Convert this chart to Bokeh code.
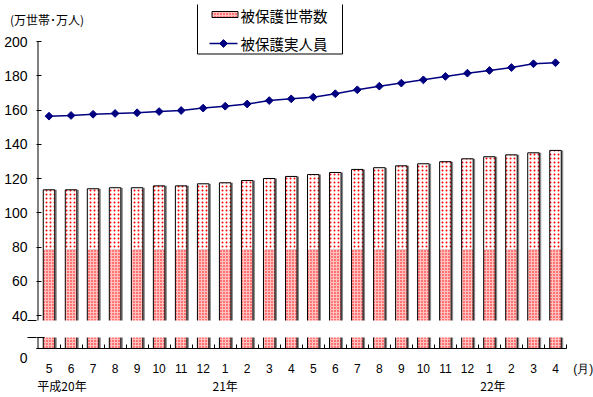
import numpy as np
from bokeh.plotting import figure
from bokeh.models import Range1d, FixedTicker, LinearAxis
from bokeh.core.properties import value
from bokeh.embed import file_html
from bokeh.resources import INLINE

# ---------------- data ----------------
months = ["5", "6", "7", "8", "9", "10", "11", "12",
          "1", "2", "3", "4", "5", "6", "7", "8", "9", "10", "11", "12",
          "1", "2", "3", "4"]
households = [113.4, 113.4, 114.0, 114.6, 114.6, 115.7, 115.7, 116.9,
              117.5, 118.8, 120.0, 121.2, 122.3, 123.5, 125.3, 126.3,
              127.4, 128.6, 129.8, 131.5, 132.7, 133.8, 135.0, 136.4]
persons = [156.4, 156.8, 157.5, 158.0, 158.4, 159.1, 159.7, 161.1,
           162.2, 163.5, 165.5, 166.5, 167.5, 169.5, 171.8, 173.9,
           175.7, 177.6, 179.6, 181.5, 183.1, 184.8, 187.0, 187.6]
y_ticks = [40, 60, 80, 100, 120, 140, 160, 180, 200]
year_labels = ["平成20年", "21年", "22年"]
year_pos = [1.59, 9.0, 21.16]
legend_labels = ["被保護世帯数", "被保護実人員"]
unit_label = "(万世帯･万人)"
month_unit = "(月)"
zero_label = "0"

# ---------------- layout ----------------
W, H = 593, 397
L, R, T, B = 36, 566, 4, 348          # frame edges (canvas px)
AX = 37.5                              # pixel of the drawn y axis line
n = len(months)
cat_px = (R - AX) / n
x_start = 0.5 - (AX - L) / cat_px
x_end = n + 0.5
k = 274 / 160                          # px per unit (40 -> 315, 200 -> 41)
y_start = 40 - (B - 315) / k           # value at the x axis (axis is broken)
y_end = 200 + (41 - T) / k
break_high = 40 - (320 - 315) / k
break_low = 40 - (337 - 315) / k
band_split = 78.5


def px2x(px):
    return x_start + (px - L) / cat_px


def px2y(py):
    return y_start + (B - py) / k


p = figure(width=W, height=H, x_range=Range1d(x_start, x_end),
           y_range=Range1d(y_start, y_end), output_backend="svg",
           toolbar_location=None, min_border_left=L, min_border_right=W - R,
           min_border_top=T, min_border_bottom=H - B)
p.outline_line_color = None
p.xgrid.visible = False
p.ygrid.visible = False
p.background_fill_color = "white"
p.border_fill_color = "white"

xs = list(range(1, n + 1))
bw = 11.5 / cat_px
shift = 2 / cat_px

# shadow
p.vbar(x=[x + shift for x in xs], width=bw, bottom=y_start, top=households,
       fill_color="#8a8a8a", line_color=None)
# lower dense dotted part
p.vbar(x=xs, width=bw, bottom=y_start, top=[min(band_split, h) for h in households],
       fill_color="#ffc0c0", line_color=None, hatch_pattern="dot",
       hatch_color="#ff0000", hatch_scale=3, hatch_weight=2)
# upper sparser dotted part
p.vbar(x=xs, width=bw, bottom=band_split, top=households,
       fill_color="white", line_color=None, hatch_pattern="dot",
       hatch_color="#ff0000", hatch_scale=4, hatch_weight=1)
# outline
p.vbar(x=xs, width=bw, bottom=y_start, top=households,
       fill_color=None, line_color="black", line_width=1)

# axis break band
p.quad(left=x_start, right=x_end, bottom=break_low, top=break_high,
       fill_color="white", line_color=None)
p.segment(x0=[x_start], y0=[break_low], x1=[px2x(44)], y1=[break_low],
          line_color="black", line_width=1)
# y axis line (broken)
xa = px2x(AX)
p.segment(x0=[xa, xa], y0=[break_high, y_start], x1=[xa, xa], y1=[200, break_low],
          line_color="black", line_width=1)

# persons line
p.line(x=xs, y=persons, line_color="#000080", line_width=1.5)
p.scatter(x=xs, y=persons, marker="square", angle=np.pi / 4, size=5.5,
          fill_color="#000080", line_color="#000080", line_width=1)

# ---- x axis (months) ----
nb = "\u00a0" * 10
p.xaxis.ticker = FixedTicker(ticks=xs + [x_end], minor_ticks=[x + 0.5 for x in xs])
ovr = {x: m for x, m in zip(xs, months)}
ovr[x_end] = nb + month_unit
p.xaxis.major_label_overrides = ovr
p.xaxis.major_tick_in = 0
p.xaxis.major_tick_out = 0
p.xaxis.minor_tick_in = 4
p.xaxis.minor_tick_out = 0
p.xaxis.axis_line_color = "black"
p.xaxis.major_label_standoff = 13
p.xaxis.major_label_text_font = "Liberation Sans"
p.xaxis.major_label_text_font_size = "12px"
p.xaxis.major_label_text_color = "black"

# ---- second row: years ----
yax = LinearAxis(ticker=FixedTicker(ticks=year_pos, minor_ticks=[]),
                 major_label_overrides={xv: t for xv, t in zip(year_pos, year_labels)},
                 axis_line_color=None, major_tick_line_color=None,
                 minor_tick_line_color=None, major_label_standoff=-8,
                 major_label_text_font="Noto Sans CJK JP",
                 major_label_text_font_size="12px", major_label_text_color="black")
p.add_layout(yax, "below")

# ---- unit label on top ----
uax = LinearAxis(ticker=FixedTicker(ticks=[px2x(46.5)], minor_ticks=[]),
                 major_label_overrides={px2x(46.5): unit_label},
                 axis_line_color=None, major_tick_line_color=None,
                 minor_tick_line_color=None, major_label_standoff=-29,
                 major_label_text_font="Noto Sans CJK JP",
                 major_label_text_font_size="12px", major_label_text_color="black")
p.add_layout(uax, "above")

# ---- y axis ----
p.yaxis.ticker = FixedTicker(ticks=[y_start] + y_ticks, minor_ticks=[break_low, break_high])
p.yaxis.major_label_overrides = {y_start: "\n" + zero_label}
p.yaxis.axis_line_color = None
p.yaxis.major_tick_in = 5
p.yaxis.major_tick_out = 0
p.yaxis.minor_tick_in = 0
p.yaxis.minor_tick_out = 9
p.yaxis.major_tick_line_color = "black"
p.yaxis.minor_tick_line_color = "black"
p.yaxis.major_label_standoff = 0
p.yaxis.major_label_text_font = "Liberation Sans"
p.yaxis.major_label_text_font_size = "14px"
p.yaxis.major_label_text_color = "black"

# ---- legend (drawn by hand) ----
p.quad(left=[px2x(197)], right=[px2x(342)], bottom=[px2y(53.5)], top=[px2y(-3)],
       fill_color="white", line_color="black", line_width=1)
p.quad(left=[px2x(211.5)], right=[px2x(237.5)], bottom=[px2y(17)], top=[px2y(11)],
       fill_color="#ffc0c0", line_color="black", line_width=1, hatch_pattern="dot",
       hatch_color="#ff0000", hatch_scale=3, hatch_weight=2)
p.segment(x0=[px2x(209)], y0=[px2y(43)], x1=[px2x(237)], y1=[px2y(43)],
          line_color="#000080", line_width=1.5)
p.scatter(x=[px2x(223)], y=[px2y(43)], marker="square", angle=np.pi / 4, size=5.5,
          fill_color="#000080", line_color="#000080", line_width=1)
p.text(x=[px2x(240), px2x(240)], y=[px2y(15), px2y(43)], text=legend_labels,
       text_font=value("Noto Sans CJK JP"), text_font_size="14.5px",
       text_align="left", text_baseline="middle", text_color="black")

open("out.html", "w").write(file_html(p, INLINE))
